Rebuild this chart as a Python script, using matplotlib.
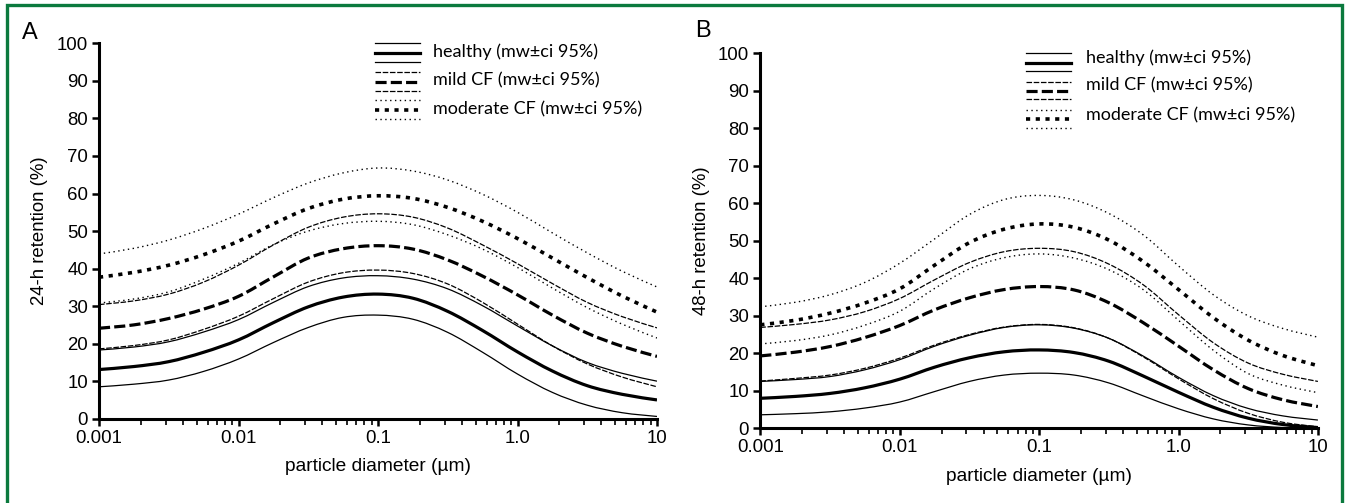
import numpy as np
import matplotlib
matplotlib.use('Agg')
import matplotlib.pyplot as plt
from matplotlib.lines import Line2D
from matplotlib.patches import Rectangle, PathPatch
from matplotlib.path import Path
from matplotlib.ticker import FixedLocator, LogLocator, NullFormatter

plt.rcParams['font.family'] = ['Liberation Sans', 'DejaVu Sans']
plt.rcParams['lines.scale_dashes'] = False

# particle diameter (um), quarter decades
diameter = [0.001, 0.00178, 0.00316, 0.00562, 0.01, 0.0178, 0.0316, 0.0562, 0.1,
            0.178, 0.316, 0.562, 1.0, 1.78, 3.16, 5.62, 10.0]

# panel A: 24-h retention (%)
a_healthy_lo = [8.5, 9.2, 10.3, 12.6, 15.9, 20.3, 24.3, 27.0, 27.6, 26.5, 23.0, 17.7, 11.9, 7.0, 3.6, 1.6, 0.6]
a_healthy = [13.1, 13.9, 15.2, 17.7, 21.0, 25.6, 29.8, 32.4, 33.2, 32.1, 28.6, 23.5, 17.8, 12.7, 8.8, 6.5, 5.0]
a_healthy_hi = [18.3, 19.1, 20.5, 23.1, 26.4, 31.0, 35.2, 37.5, 38.1, 37.2, 34.6, 30.1, 24.7, 19.4, 15.0, 12.1, 10.0]
a_mild_lo = [18.6, 19.5, 21.0, 23.8, 27.3, 32.0, 36.4, 38.9, 39.6, 38.7, 35.9, 31.0, 25.2, 19.4, 14.6, 11.1, 8.5]
a_mild = [24.1, 25.0, 26.7, 29.2, 32.6, 37.8, 42.8, 45.3, 46.1, 45.2, 42.3, 38.0, 33.0, 27.6, 22.8, 19.3, 16.6]
a_mild_hi = [30.4, 31.4, 33.2, 36.4, 40.9, 46.3, 51.0, 53.7, 54.6, 53.7, 50.8, 46.3, 41.3, 36.0, 31.0, 27.2, 24.2]
a_mod_lo = [30.8, 31.9, 33.8, 37.2, 41.4, 46.4, 50.0, 52.0, 52.6, 51.7, 49.0, 45.2, 40.3, 34.8, 29.6, 25.2, 21.5]
a_mod = [37.7, 39.0, 40.9, 43.7, 47.3, 51.9, 56.0, 58.5, 59.4, 58.7, 56.3, 52.6, 48.0, 42.8, 37.6, 32.7, 28.4]
a_mod_hi = [43.9, 45.4, 47.6, 50.7, 54.5, 58.9, 62.8, 65.5, 66.8, 66.0, 63.6, 59.8, 55.0, 49.5, 44.2, 39.3, 35.1]

# panel B: 48-h retention (%)
b_healthy_lo = [3.6, 3.9, 4.4, 5.4, 7.0, 9.8, 12.5, 14.2, 14.7, 14.2, 12.1, 8.6, 5.2, 2.5, 0.9, 0.2, 0.0]
b_healthy = [8.0, 8.5, 9.3, 10.8, 13.1, 16.3, 18.8, 20.4, 20.9, 20.2, 17.9, 13.9, 9.6, 5.6, 2.7, 1.0, 0.2]
b_healthy_hi = [12.5, 13.0, 13.8, 15.6, 18.3, 21.9, 24.8, 26.9, 27.6, 26.7, 24.0, 19.2, 13.6, 8.7, 5.3, 3.3, 2.2]
b_mild_lo = [12.6, 13.3, 14.2, 16.0, 18.7, 22.2, 25.0, 27.0, 27.7, 26.8, 24.0, 19.0, 13.2, 7.9, 4.0, 1.6, 0.4]
b_mild = [19.3, 20.3, 21.8, 24.2, 27.4, 31.6, 34.8, 37.0, 37.8, 36.9, 33.5, 28.1, 21.9, 15.6, 10.6, 7.6, 5.8]
b_mild_hi = [26.9, 27.7, 28.9, 31.1, 34.6, 39.6, 44.2, 47.1, 48.0, 47.1, 43.8, 38.2, 30.3, 22.8, 17.4, 14.4, 12.5]
b_mod_lo = [22.5, 23.4, 24.9, 27.5, 31.2, 37.3, 42.5, 45.5, 46.5, 45.4, 42.3, 36.9, 28.8, 20.8, 14.6, 11.5, 9.5]
b_mod = [27.6, 28.8, 30.7, 33.4, 37.2, 43.5, 49.5, 53.1, 54.5, 53.6, 50.2, 44.4, 37.0, 29.5, 23.5, 19.4, 16.7]
b_mod_hi = [32.4, 33.6, 35.6, 38.9, 44.0, 50.5, 57.0, 61.0, 62.1, 60.9, 57.3, 51.5, 43.3, 35.6, 30.0, 26.6, 24.3]

x_ticks = [0.001, 0.01, 0.1, 1, 10]
x_tick_labels = ['0.001', '0.01', '0.1', '1.0', '10']
y_ticks = list(range(0, 101, 10))
legend_labels = ['healthy (mw\u00b1ci 95%)', 'mild CF (mw\u00b1ci 95%)', 'moderate CF (mw\u00b1ci 95%)']

W, H = 1346, 503

# line styles: (CI line, mean line) per group
thin_solid = dict(color='k', lw=0.9, ls='-')
thick_solid = dict(color='k', lw=2.3, ls='-')
thin_dash = dict(color='k', lw=0.9, ls=(0, (4, 1.2)))
thick_dash = dict(color='k', lw=2.3, ls=(0, (8, 3)))
thin_dot = dict(color='k', lw=1.0, ls=(0, (1, 2.5)))
thick_dot = dict(color='k', lw=2.6, ls=(0, (3, 4)))
group_styles = [(thin_solid, thick_solid), (thin_dash, thick_dash), (thin_dot, thick_dot)]


def fx(x):
    return x / W


def fy(y):
    return 1 - y / H


def smooth_curve(ax, xs, ys, style):
    # Catmull-Rom through the read points, drawn as cubic Bezier segments (log x)
    lx = np.log10(xs)
    y = np.asarray(ys, dtype=float)
    verts = [(xs[0], y[0])]
    codes = [Path.MOVETO]
    n = len(lx)
    for i in range(n - 1):
        i0, i3 = max(i - 1, 0), min(i + 2, n - 1)
        c1x = lx[i] + (lx[i + 1] - lx[i0]) / 6
        c1y = y[i] + (y[i + 1] - y[i0]) / 6
        c2x = lx[i + 1] - (lx[i3] - lx[i]) / 6
        c2y = y[i + 1] - (y[i3] - y[i]) / 6
        verts += [(10 ** c1x, c1y), (10 ** c2x, c2y), (xs[i + 1], y[i + 1])]
        codes += [Path.CURVE4] * 3
    patch = PathPatch(Path(verts, codes), fill=False, edgecolor=style['color'],
                      lw=style['lw'], ls=style['ls'], capstyle='butt')
    ax.add_patch(patch)


def draw_panel(ax, groups, ylabel):
    for (lo, mean, hi), (ci_style, mean_style) in zip(groups, group_styles):
        smooth_curve(ax, diameter, hi, ci_style)
        smooth_curve(ax, diameter, mean, mean_style)
        smooth_curve(ax, diameter, lo, ci_style)

    ax.set_xscale('log')
    ax.set_xlim(0.001, 10)
    ax.set_ylim(0, 100)
    ax.xaxis.set_major_locator(FixedLocator(x_ticks))
    ax.set_xticklabels(x_tick_labels)
    ax.xaxis.set_minor_locator(LogLocator(base=10, subs=range(2, 10)))
    ax.xaxis.set_minor_formatter(NullFormatter())
    ax.set_yticks(y_ticks)

    for side in ['top', 'right']:
        ax.spines[side].set_visible(False)
    for side in ['left', 'bottom']:
        ax.spines[side].set_linewidth(2.2)
    ax.tick_params(axis='both', which='major', direction='out', length=5, width=1.8,
                   labelsize=13.4, pad=3)
    ax.tick_params(axis='x', which='minor', direction='out', length=4, width=1.2)

    ax.set_xlabel('particle diameter (\u00b5m)', fontsize=13.8, labelpad=8)
    ax.set_ylabel(ylabel, fontsize=13.4, labelpad=6)


def draw_legend(x0, x1, text_x, rows, text_ys):
    for (ci_style, mean_style), ys, label, ty in zip(group_styles, rows, legend_labels, text_ys):
        for y, st in zip(ys, [ci_style, mean_style, ci_style]):
            fig.add_artist(Line2D([fx(x0), fx(x1)], [fy(y), fy(y)],
                                  transform=fig.transFigure, **st))
        fig.text(fx(text_x), fy(ty), label, fontsize=13, va='center', ha='left',
                 family=['Lato', 'DejaVu Sans'])


fig = plt.figure(figsize=(W / 100, H / 100), dpi=100)

ax_a = fig.add_axes([fx(99), fy(418.7), 558 / W, 375.3 / H])
draw_panel(ax_a, [(a_healthy_lo, a_healthy, a_healthy_hi),
                  (a_mild_lo, a_mild, a_mild_hi),
                  (a_mod_lo, a_mod, a_mod_hi)], '24-h retention (%)')

ax_b = fig.add_axes([fx(760.3), fy(428.3), 557.6 / W, 375 / H])
draw_panel(ax_b, [(b_healthy_lo, b_healthy, b_healthy_hi),
                  (b_mild_lo, b_mild, b_mild_hi),
                  (b_mod_lo, b_mod, b_mod_hi)], '48-h retention (%)')

draw_legend(375, 420, 433,
            [(43.3, 52.7, 62.3), (71.7, 81.7, 91), (100, 110, 119.3)], [51.7, 80, 109])
draw_legend(1026, 1071, 1086,
            [(53, 63, 71), (82, 91, 99), (110, 119, 128)], [58, 85, 115])

fig.text(fx(30), fy(33), 'A', fontsize=17, ha='center', va='center')
fig.text(fx(703), fy(31), 'B', fontsize=17, ha='center', va='center')

# green frame, open at the bottom
fig.add_artist(Rectangle((fx(7), -0.1), (1342 - 7) / W, 1.1 - 5.5 / H,
                         transform=fig.transFigure, fill=False,
                         edgecolor='#0b7a3e', lw=2.4))

fig.savefig('out.png', dpi=100)
